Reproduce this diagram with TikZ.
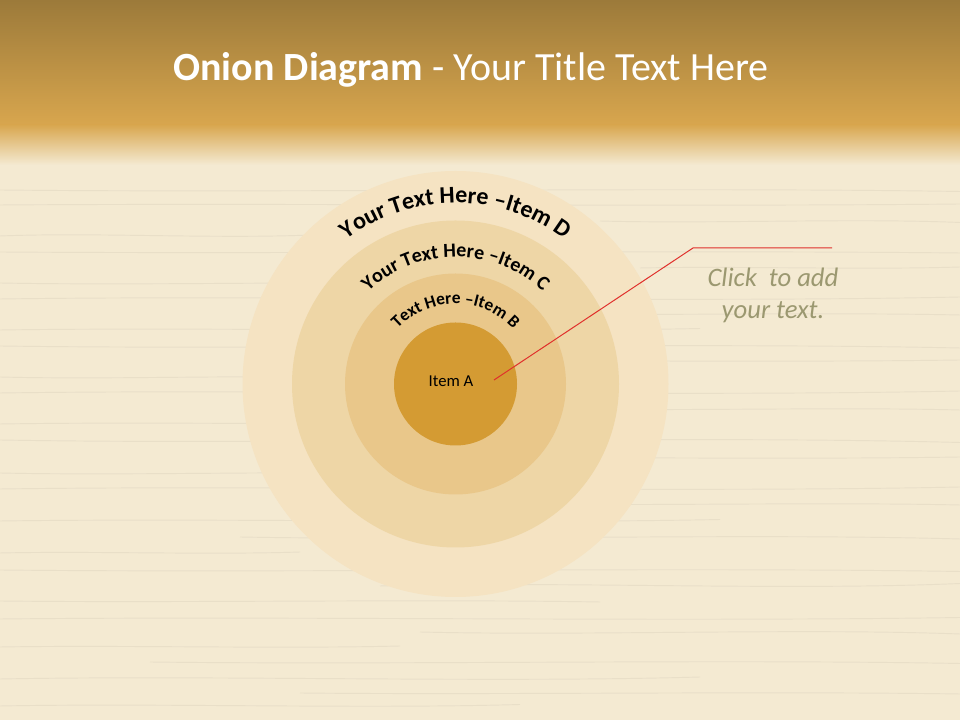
\documentclass[tikz,border=0pt]{standalone}
\usepackage{fontspec}
\setmainfont{Carlito}
\usetikzlibrary{calc,decorations.text}

\definecolor{headtop}{HTML}{9C7A3A}
\definecolor{headbot}{HTML}{D8A64E}
\definecolor{woodbg}{HTML}{F4EAD2}
\definecolor{grain}{HTML}{DCD2BE}
\definecolor{ringDcol}{HTML}{F5E3C2}
\definecolor{ringCcol}{HTML}{EED6A6}
\definecolor{ringBcol}{HTML}{E9C78A}
\definecolor{ringAcol}{HTML}{D49B33}
\definecolor{calloutred}{HTML}{E0302C}
\definecolor{hinttext}{HTML}{9B9870}

\begin{document}
\begin{tikzpicture}[x=0.75pt,y=0.75pt,
ringnode/.style={circle, inner sep=0pt, draw=none},
grainline/.style={grain, line width=0.7pt, opacity=0.45},
ringlabel/.style={decorate, decoration={text along path, text align=center, text={#1}}},
]
\useasboundingbox (0,0) rectangle (960,720);

%Background
\fill[woodbg] (0,0) rectangle (960,720);
\foreach \y/\d/\a/\b in {14/3/0/520,27/-2/300/960,41/4/0/700,58/-3/150/960,73/2/0/400,88/-4/420/960,101/3/0/960,119/-2/0/600,134/5/380/960,150/-3/0/960,167/2/0/300,183/-4/240/960,199/3/0/720,216/-2/500/960,231/4/0/960,247/-3/0/450,262/2/330/960,280/-5/0/960,296/3/0/640,311/-2/560/960,327/4/0/960,343/-3/0/380,359/2/260/960,374/-4/0/960,390/3/0/700,406/-2/480/960,421/4/0/960,437/-3/0/520,452/2/640/960,468/-2/0/960,484/4/0/330,499/-3/600/960,515/2/0/960,530/-3/0/960}
  \draw[grainline] (\a,\y) .. controls (\a+0.3*\b-0.3*\a,\y+\d) and (\a+0.7*\b-0.7*\a,\y-\d) .. (\b,\y+0.5*\d);
\shade[top color=headtop, bottom color=headbot] (0,595) rectangle (960,720);
\shade[top color=headbot, bottom color=woodbg] (0,555) rectangle (960,595.5);

%Title
\node[text=white, font=\fontsize{30}{36}\selectfont] (title) at (471,650)
  {\textbf{Onion Diagram} - Your Title Text Here};

%Rings
\node[ringnode, fill=ringDcol, minimum size=426*0.75pt] (ringD) at (455.5,336) {};
\node[ringnode, fill=ringCcol, minimum size=327*0.75pt] (ringC) at (455.5,336) {};
\node[ringnode, fill=ringBcol, minimum size=221*0.75pt] (ringB) at (455.5,336) {};
\node[ringnode, fill=ringAcol, minimum size=123*0.75pt] (ringA) at (455.5,336) {};
\node[font=\fontsize{12.5}{15}\selectfont, text=black] (itemA) at (451,339) {Item A};

%Curved labels
\path[ringlabel={|\fontsize{18}{21}\selectfont\bfseries|Your Text Here –Item D}]
  ($(ringD.center)+(-181,0)$) arc[start angle=180, end angle=0, radius=181];
\path[ringlabel={|\fontsize{15}{18}\selectfont\bfseries|Your Text Here –Item C}]
  ($(ringC.center)+(-127,0)$) arc[start angle=180, end angle=0, radius=127];
\path[ringlabel={|\fontsize{13}{15}\selectfont\bfseries|Text Here –Item B}]
  ($(ringB.center)+(-80,0)$) arc[start angle=180, end angle=0, radius=80];

%Callout
\coordinate (tip) at (494,340);
\coordinate (bend) at (693,472);
\coordinate (tail) at (832,472);
\draw[calloutred, line width=0.75pt] (tip) -- (bend) -- (tail);

%Text
\node[text=hinttext, font=\itshape\fontsize{20}{24}\selectfont, align=center] (hint) at (773,425)
  {Click\ \ to add\\your text.};
\end{tikzpicture}
\end{document}
